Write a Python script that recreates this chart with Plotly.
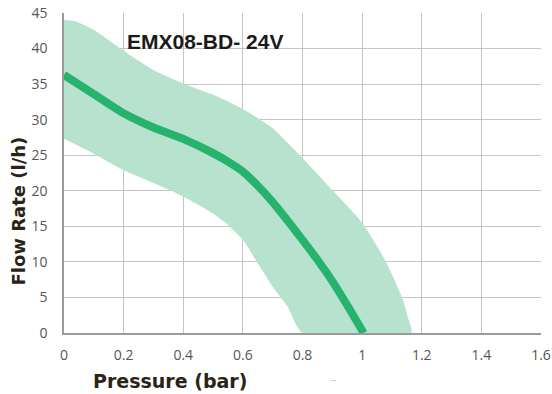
import plotly.graph_objects as go

# main pump curve
pressure = [0, 0.1, 0.2, 0.3, 0.4, 0.5, 0.55, 0.6, 0.65, 0.7, 0.75, 0.8, 0.85, 0.9, 0.95, 1.005]
flow = [36.3, 33.6, 30.9, 28.9, 27.3, 25.3, 24.1, 22.7, 20.7, 18.4, 15.8, 13.1, 10.3, 7.3, 3.9, 0]

# tolerance band
upper_p = [0, 0.04, 0.1, 0.2, 0.3, 0.4, 0.5, 0.6, 0.7, 0.8, 0.9, 1.0, 1.08, 1.134, 1.155, 1.165]
upper_f = [44, 43.8, 42.6, 39.7, 37.0, 35.1, 33.5, 31.5, 28.8, 24.6, 20.1, 15.5, 10, 5, 2, 0]
lower_p = [0, 0.1, 0.2, 0.3, 0.4, 0.5, 0.55, 0.6, 0.65, 0.7, 0.75, 0.8]
lower_f = [27.3, 25.2, 22.9, 21.1, 19.2, 16.8, 15.2, 13.1, 9.8, 6.5, 3.7, 0]

x_ticks = [0, 0.2, 0.4, 0.6, 0.8, 1, 1.2, 1.4, 1.6]
x_labels = ["0", "0.2", "0.4", "0.6", "0.8", "1", "1.2", "1.4", "1.6"]
y_ticks = [0, 5, 10, 15, 20, 25, 30, 35, 40, 45]

model = "EMX08-BD- 24V"

fig = go.Figure()

fig.add_trace(go.Scatter(
    x=upper_p + lower_p[::-1], y=upper_f + lower_f[::-1],
    mode="lines", fill="toself", fillcolor="#b7e2cd",
    line=dict(width=0, color="#b7e2cd", shape="spline", smoothing=0.6),
    hoverinfo="skip", showlegend=False,
))
fig.add_trace(go.Scatter(
    x=pressure, y=flow, mode="lines",
    line=dict(color="#27b36e", width=8, shape="spline", smoothing=0.7),
    showlegend=False,
))

W, H = 552, 394
L, R, T, B = 64, 11, 13, 61

def px(x, y):
    # page pixel -> paper coords
    return (x - L) / (W - L - R), (H - B - y) / (H - T - B)

def label(x, y, text, font, angle=0):
    tx, ty = px(x, y)
    fig.add_annotation(x=tx, y=ty, xref="paper", yref="paper", text=text,
                       showarrow=False, textangle=angle, xanchor="center",
                       yanchor="middle", font=font)

label(205, 42, "<b>" + model + "</b>",
      dict(family="Liberation Sans", size=21, color="#1a1a1a"))
label(17.5, 211, "<b>Flow Rate (l/h)</b>",
      dict(family="DejaVu Sans", size=18, color="#2b2416"), angle=-90)
label(170, 381, "<b>Pressure (bar)</b>",
      dict(family="DejaVu Sans", size=19, color="#2b2416"))
label(333, 380, "--", dict(family="DejaVu Sans", size=8, color="#aaaaaa"))

tick_font = dict(family="Open Sans", size=14, color="#555555")
fig.update_xaxes(range=[0, 1.6], tickvals=x_ticks, ticktext=x_labels, showgrid=True,
                 gridcolor="#c4c4c4", gridwidth=1, showline=True, linecolor="#9a9a9a",
                 linewidth=1.5, zeroline=False, ticks="", tickfont=tick_font,
                 ticklabelstandoff=8, ticklabeloverflow="allow", automargin=False)
fig.update_yaxes(range=[0, 45], tickvals=y_ticks, showgrid=True,
                 gridcolor="#c4c4c4", gridwidth=1, showline=True, linecolor="#9a9a9a",
                 linewidth=1.5, zeroline=False, ticks="", tickfont=tick_font,
                 ticklabelstandoff=12, ticklabeloverflow="allow", automargin=False)

fig.update_layout(
    width=W, height=H,
    margin=dict(l=L, r=R, t=T, b=B),
    paper_bgcolor="white", plot_bgcolor="white",
)

# drop the default 8px page margin so the figure fills the window
fig.write_html("out.html", config={"displayModeBar": False},
               post_script="document.body.style.margin='0';")
